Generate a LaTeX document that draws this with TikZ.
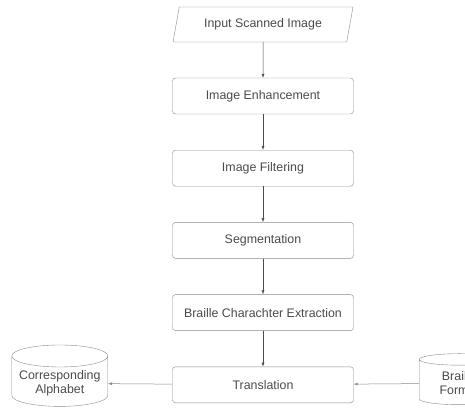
\documentclass[tikz,border=0pt]{standalone}
\usepackage{fontspec}
\setmainfont{Liberation Sans}
\usetikzlibrary{shapes.geometric,arrows.meta}
\definecolor{linegray}{HTML}{8A8A8A}
\definecolor{textgray}{HTML}{4A4A4A}

\begin{document}
\begin{tikzpicture}[node distance=72.2pt, auto,
    box/.style={rectangle, draw=linegray, rounded corners=3pt, minimum width=181pt, minimum height=36pt, align=center, text=textgray, font=\fontsize{12.4}{14}\selectfont},
    store/.style={cylinder, shape border rotate=90, aspect=0.25, draw=linegray, minimum width=96pt, minimum height=51pt, align=center, text=textgray, font=\fontsize{12.4}{14}\selectfont},
    link/.style={-{Latex[length=4pt,width=3pt]}, draw=black!70, line width=0.5pt}]
    \clip (-263pt,24.5pt) rectangle (202pt,-385.5pt);
        % Nodes
    \node (input) [trapezium, trapezium left angle=71, trapezium right angle=109, trapezium stretches body, draw=linegray, minimum width=180pt, minimum height=35pt, text=textgray, font=\fontsize{12.4}{14}\selectfont] {Input Scanned Image};
    \node (enhance) [box, below of=input, yshift=0.7pt] {Image Enhancement};
    \node (filter) [box, below of=enhance] {Image Filtering};
    \node (segment) [box, below of=filter] {Segmentation};
    \node (extract) [box, below of=segment] {Braille Charachter Extraction};
    \node (translate) [box, below of=extract] {Translation};
    \node (alphabet) [store, left of=translate, xshift=-131pt, yshift=1.5pt] {Corresponding\\Alphabet};
    \node (format) [store, right of=translate, xshift=124pt, yshift=1.5pt, minimum width=80pt] {Braille\\Format};

    % Arrows
    \draw[link] (input) -- (enhance);
    \draw[link] (enhance) -- (filter);
    \draw[link] (filter) -- (segment);
    \draw[link] (segment) -- (extract);
    \draw[link] (extract) -- (translate);
    \draw[link, draw=linegray] (translate) -- (alphabet);
    \draw[link, draw=linegray] (format) -- (translate);
\end{tikzpicture}
\end{document}
